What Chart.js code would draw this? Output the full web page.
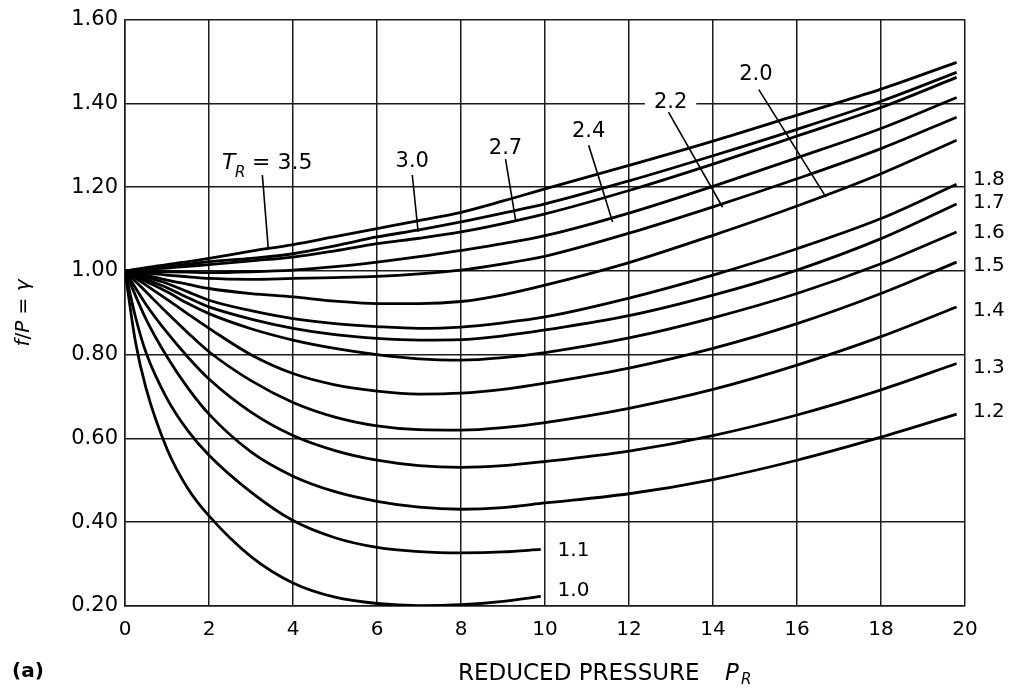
<!DOCTYPE html>
<html>
<head>
<meta charset="utf-8">
<script src="https://cdn.jsdelivr.net/npm/chart.js"></script>
<style>
  html, body { margin: 0; padding: 0; background: #fff; }
  #wrap { width: 1013px; height: 688px; }
</style>
</head>
<body>
<div id="wrap"><canvas id="fugacityChart" width="1013" height="688"></canvas></div>
<script>
// reduced pressure points (Pr)
const prShort = [0, 0.25, 0.5, 1, 1.5, 2, 3, 4, 5, 6, 7, 8, 9, 9.9];
const prLong = [0, 0.5, 1, 1.5, 2, 3, 4, 5, 6, 7, 8, 9, 10, 12, 14, 16, 18, 19.8];

// f/P for each reduced temperature
const tr10 = [1.00, 0.83, 0.72, 0.575, 0.48, 0.415, 0.318, 0.255, 0.221, 0.206, 0.201, 0.203, 0.211, 0.223];
const tr11 = [1.00, 0.89, 0.805, 0.695, 0.618, 0.56, 0.472, 0.404, 0.363, 0.34, 0.33, 0.327, 0.329, 0.335];
const tr12 = [1.00, 0.885, 0.795, 0.72, 0.658, 0.568, 0.51, 0.473, 0.45, 0.436, 0.431, 0.435, 0.446, 0.468, 0.502, 0.548, 0.603, 0.658];
const tr13 = [1.00, 0.92, 0.853, 0.794, 0.742, 0.663, 0.607, 0.571, 0.548, 0.535, 0.531, 0.535, 0.545, 0.570, 0.607, 0.656, 0.716, 0.779];
const tr14 = [1.00, 0.95, 0.90, 0.852, 0.807, 0.738, 0.686, 0.651, 0.63, 0.621, 0.62, 0.626, 0.638, 0.672, 0.717, 0.775, 0.843, 0.914];
const tr15 = [1.00, 0.966, 0.932, 0.897, 0.863, 0.80, 0.755, 0.728, 0.713, 0.706, 0.708, 0.717, 0.732, 0.768, 0.815, 0.874, 0.946, 1.021];
const tr16 = [1.00, 0.975, 0.95, 0.922, 0.898, 0.862, 0.835, 0.815, 0.80, 0.79, 0.787, 0.793, 0.805, 0.84, 0.888, 0.946, 1.017, 1.093];
const tr17 = [1.00, 0.98, 0.96, 0.936, 0.914, 0.885, 0.863, 0.848, 0.839, 0.835, 0.836, 0.845, 0.859, 0.893, 0.942, 1.002, 1.077, 1.160];
const tr18 = [1.00, 0.985, 0.97, 0.95, 0.93, 0.905, 0.886, 0.874, 0.867, 0.863, 0.866, 0.876, 0.890, 0.935, 0.99, 1.053, 1.125, 1.207];
const tr20 = [1.00, 0.99, 0.978, 0.968, 0.958, 0.946, 0.938, 0.928, 0.922, 0.922, 0.927, 0.943, 0.966, 1.02, 1.085, 1.155, 1.232, 1.312];
const tr22 = [1.00, 0.995, 0.99, 0.986, 0.982, 0.98, 0.982, 0.984, 0.987, 0.993, 1.002, 1.017, 1.035, 1.09, 1.153, 1.22, 1.292, 1.367];
const tr24 = [1.00, 0.999, 0.998, 0.997, 0.996, 0.998, 1.002, 1.01, 1.021, 1.034, 1.049, 1.065, 1.084, 1.138, 1.202, 1.27, 1.34, 1.414];
const tr27 = [1.00, 1.004, 1.007, 1.011, 1.015, 1.024, 1.033, 1.048, 1.065, 1.078, 1.093, 1.113, 1.136, 1.192, 1.255, 1.322, 1.39, 1.462];
const tr30 = [1.00, 1.005, 1.01, 1.016, 1.022, 1.03, 1.041, 1.06, 1.081, 1.098, 1.117, 1.138, 1.16, 1.215, 1.275, 1.338, 1.405, 1.474];
const tr35 = [1.00, 1.008, 1.015, 1.022, 1.03, 1.047, 1.063, 1.082, 1.101, 1.12, 1.14, 1.167, 1.196, 1.252, 1.31, 1.372, 1.434, 1.498];

const curves = [
  ['1.0', prShort, tr10], ['1.1', prShort, tr11], ['1.2', prLong, tr12],
  ['1.3', prLong, tr13], ['1.4', prLong, tr14], ['1.5', prLong, tr15],
  ['1.6', prLong, tr16], ['1.7', prLong, tr17], ['1.8', prLong, tr18],
  ['2.0', prLong, tr20], ['2.2', prLong, tr22], ['2.4', prLong, tr24],
  ['2.7', prLong, tr27], ['3.0', prLong, tr30], ['3.5', prLong, tr35]
];

const xTicks = [0, 2, 4, 6, 8, 10, 12, 14, 16, 18, 20];
const yTicks = [0.2, 0.4, 0.6, 0.8, 1.0, 1.2, 1.4, 1.6];

// labels with leader lines, in data units (Pr, f/P)
const leaders = [
  { text: '3.0', at: [6.84, 1.248], from: [6.84, 1.229], to: [6.98, 1.093] },
  { text: '2.7', at: [9.06, 1.279], from: [9.06, 1.267], to: [9.30, 1.121] },
  { text: '2.4', at: [11.04, 1.319], from: [11.04, 1.300], to: [11.61, 1.117] },
  { text: '2.2', at: [12.99, 1.390], from: [12.94, 1.379], to: [14.23, 1.152], bg: true },
  { text: '2.0', at: [15.02, 1.455], from: [15.09, 1.433], to: [16.69, 1.176] }
];
// end labels: [text, Pr, f/P at label centre]
const endLabels = [
  ['1.8', 20.19, 1.218], ['1.7', 20.19, 1.163], ['1.6', 20.19, 1.092],
  ['1.5', 20.19, 1.013], ['1.4', 20.19, 0.904], ['1.3', 20.19, 0.768],
  ['1.2', 20.19, 0.663], ['1.1', 10.30, 0.331], ['1.0', 10.30, 0.236]
];

const FONT = '"DejaVu Sans", sans-serif';

const annotations = {
  id: 'annotations',
  afterDatasetsDraw(chart) {
    const ctx = chart.ctx;
    const x = chart.scales.x, y = chart.scales.y;
    ctx.save();
    ctx.fillStyle = '#000';
    ctx.strokeStyle = '#000';

    // T_R = 3.5 with its leader
    ctx.lineWidth = 1.6;
    ctx.beginPath();
    ctx.moveTo(x.getPixelForValue(3.27), y.getPixelForValue(1.229));
    ctx.lineTo(x.getPixelForValue(3.41), y.getPixelForValue(1.055));
    ctx.stroke();
    const tx = x.getPixelForValue(2.31), ty = y.getPixelForValue(1.243);
    ctx.textAlign = 'left';
    ctx.textBaseline = 'alphabetic';
    ctx.font = 'italic 22px ' + FONT;
    ctx.fillText('T', tx, ty);
    ctx.font = 'italic 15px ' + FONT;
    ctx.fillText('R', tx + 13, ty + 8);
    ctx.font = '22px ' + FONT;
    ctx.fillText('= 3.5', tx + 30, ty);

    leaders.forEach(l => {
      const px = x.getPixelForValue(l.at[0]), py = y.getPixelForValue(l.at[1]);
      ctx.font = '21px ' + FONT;
      ctx.textAlign = 'center';
      if (l.bg) {
        const w = ctx.measureText(l.text).width;
        ctx.fillStyle = '#fff';
        ctx.fillRect(px - w / 2 - 9, py - 19, w + 18, 23);
        ctx.fillStyle = '#000';
      }
      ctx.beginPath();
      ctx.moveTo(x.getPixelForValue(l.from[0]), y.getPixelForValue(l.from[1]));
      ctx.lineTo(x.getPixelForValue(l.to[0]), y.getPixelForValue(l.to[1]));
      ctx.stroke();
      ctx.fillText(l.text, px, py);
    });

    ctx.font = '20px ' + FONT;
    ctx.textAlign = 'left';
    ctx.textBaseline = 'middle';
    endLabels.forEach(([t, px, py]) => {
      ctx.fillText(t, x.getPixelForValue(px), y.getPixelForValue(py));
    });

    // axis titles
    ctx.textBaseline = 'alphabetic';
    ctx.font = '23px ' + FONT;
    ctx.fillText('REDUCED PRESSURE', 458, 680);
    ctx.font = 'italic 23px ' + FONT;
    ctx.fillText('P', 725, 680);
    ctx.font = 'italic 15px ' + FONT;
    ctx.fillText('R', 741, 684);
    ctx.font = 'bold 20px ' + FONT;
    ctx.fillText('(a)', 12, 677);

    // y title, rotated
    ctx.translate(29, 313);
    ctx.rotate(-Math.PI / 2);
    const parts = [['f', 'italic '], ['/', ''], ['P', 'italic '], [' = ', ''], ['\u03b3', 'italic ']];
    let total = 0;
    parts.forEach(p => { ctx.font = p[1] + '20px ' + FONT; total += ctx.measureText(p[0]).width; });
    let cx = -total / 2;
    parts.forEach(p => {
      ctx.font = p[1] + '20px ' + FONT;
      ctx.fillText(p[0], cx, 0);
      cx += ctx.measureText(p[0]).width;
    });
    ctx.restore();
  }
};

const gridStyle = { color: '#1b1b1b', lineWidth: 1.5, drawTicks: false };

new Chart(document.getElementById('fugacityChart').getContext('2d'), {
  type: 'line',
  data: {
    datasets: curves.map(([name, pr, vals]) => ({
      label: 'TR = ' + name,
      data: pr.map((p, i) => ({ x: p, y: vals[i] })),
      borderColor: '#000',
      borderWidth: 2.8,
      pointRadius: 0,
      fill: false,
      cubicInterpolationMode: 'monotone'
    }))
  },
  options: {
    responsive: false,
    animation: false,
    devicePixelRatio: 1,
    layout: { padding: { top: 17, right: 48, bottom: 0, left: 0 } },
    plugins: { legend: { display: false }, tooltip: { enabled: false }, title: { display: false } },
    scales: {
      x: {
        type: 'linear',
        min: 0, max: 20,
        afterFit(scale) { scale.height = 82; },
        afterBuildTicks(scale) { scale.ticks = xTicks.map(v => ({ value: v })); },
        grid: gridStyle,
        border: { color: '#1b1b1b', width: 1.5 },
        ticks: { color: '#000', padding: 12, maxRotation: 0, font: { family: 'DejaVu Sans', size: 20 } }
      },
      y: {
        type: 'linear',
        min: 0.2, max: 1.6,
        afterFit(scale) { scale.width = 125; },
        afterBuildTicks(scale) { scale.ticks = yTicks.map(v => ({ value: v })); },
        grid: gridStyle,
        border: { color: '#1b1b1b', width: 1.5 },
        ticks: { color: '#000', padding: 7, font: { family: 'DejaVu Sans', size: 21 }, callback: v => v.toFixed(2) }
      }
    }
  },
  plugins: [annotations]
});
</script>
</body>
</html>
